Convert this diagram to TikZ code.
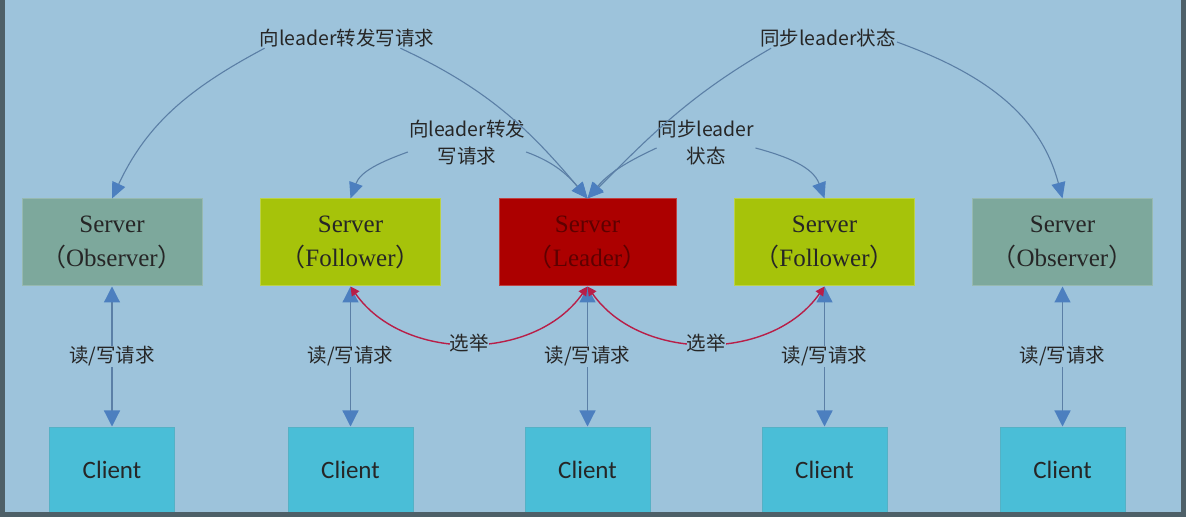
\documentclass[tikz,border=0pt]{standalone}
\usepackage{fontspec}
\setmainfont{Liberation Serif}
\newfontfamily\cjk{Noto Sans CJK SC}
\newfontfamily\clientfont{Carlito}
\usetikzlibrary{arrows.meta}
\definecolor{bg}{HTML}{9DC3DB}
\definecolor{obsc}{HTML}{7DA89C}
\definecolor{folc}{HTML}{A6C30A}
\definecolor{leadc}{HTML}{AC0000}
\definecolor{leadtxt}{HTML}{5E0000}
\definecolor{clic}{HTML}{4ABED7}
\definecolor{linec}{HTML}{5B7FA6}
\definecolor{tipc}{HTML}{4C7FBF}
\definecolor{elc}{HTML}{B81E48}
\definecolor{framec}{HTML}{4E6068}
\definecolor{txt}{HTML}{262626}
\tikzset{
  server/.style={minimum width=180pt, minimum height=87pt, inner sep=0pt, align=center,
    font=\fontsize{25}{34}\selectfont, text=black!85, line width=1pt},
  obsbox/.style={server, fill=obsc, draw=obsc!80!white},
  folbox/.style={server, fill=folc, draw=folc!75!white},
  leadbox/.style={server, fill=leadc, draw=leadc!75!white, text=leadtxt, minimum width=177pt},
  client/.style={minimum width=125pt, minimum height=86pt, inner sep=0pt, fill=clic,
    draw=clic!80!gray, line width=1pt, text=txt, font=\clientfont\fontsize{25}{30}\selectfont},
  lbl/.style={font=\cjk\fontsize{19.5}{27}\selectfont, text=txt, align=center, inner sep=1pt},
  conn/.style={draw=linec, line width=1.1pt, -{Triangle[width=14pt,length=16pt,color=tipc]}},
  rw/.style={draw=linec, line width=1.2pt,
    {Triangle[width=16pt,length=16pt,color=tipc]}-{Triangle[width=16pt,length=16pt,color=tipc]}},
  elect/.style={draw=elc, line width=1.4pt,
    {Triangle[width=9pt,length=9pt]}-{Triangle[width=9pt,length=9pt]}},
}
\begin{document}
\begin{tikzpicture}[x=1pt,y=1pt]
\useasboundingbox (0,0) rectangle (1186,517);
\fill[bg] (0,0) rectangle (1186,517);

% servers
\node[obsbox] (obs1) at (112,274.5) {Server\\{\cjk （}Observer{\cjk ）}};
\node[folbox] (fol1) at (350.5,274.5) {Server\\{\cjk （}Follower{\cjk ）}};
\node[leadbox] (lead) at (587.5,274.5) {Server\\{\cjk （}Leader{\cjk ）}};
\node[folbox] (fol2) at (824.5,274.5) {Server\\{\cjk （}Follower{\cjk ）}};
\node[obsbox] (obs2) at (1062.5,274.5) {Server\\{\cjk （}Observer{\cjk ）}};

% clients
\node[client] (c1) at (112,47) {Client};
\node[client] (c2) at (350.5,47) {Client};
\node[client] (c3) at (587.5,47) {Client};
\node[client] (c4) at (824.5,47) {Client};
\node[client] (c5) at (1062.5,47) {Client};

% labels
\node[lbl] (L1) at (347,479) {向leader转发写请求};
\node[lbl] (R1) at (828,479) {同步leader状态};
\node[lbl] (L2) at (467,374) {向leader转发\\写请求};
\node[lbl] (R2) at (706,374) {同步leader\\状态};

% top connectors
\draw[conn] ([xshift=6pt]L1.south west) to[out=208,in=65] (obs1.north);
\draw[conn] ([xshift=-35pt]L1.south east) to[out=-25,in=130] (lead.north);
\draw[conn] ([xshift=12pt]R1.south west) to[out=210,in=45] (lead.north);
\draw[conn] ([yshift=-4pt]R1.east) to[out=-20,in=105] (obs2.north);
\draw[conn] ([yshift=-9pt]L2.west) to[out=200,in=70] (fol1.north);
\draw[conn] ([yshift=-9pt]L2.east) to[out=-20,in=130] (lead.north);
\draw[conn] ([yshift=-5pt]R2.west) to[out=205,in=50] (lead.north);
\draw[conn] ([yshift=-5pt]R2.east) to[out=-15,in=110] (fol2.north);

% read/write
\draw[rw] (obs1.south) -- (c1.north) node[midway,lbl,fill=bg]{读/写请求};
\draw[rw] (fol1.south) -- (c2.north) node[midway,lbl,fill=bg]{读/写请求};
\draw[rw] (lead.south) -- (c3.north) node[midway,lbl,fill=bg]{读/写请求};
\draw[rw] (fol2.south) -- (c4.north) node[midway,lbl,fill=bg]{读/写请求};
\draw[rw] (obs2.south) -- (c5.north) node[midway,lbl,fill=bg]{读/写请求};

% elections
\draw[elect] (fol1.south) to[out=-55,in=-125] node[lbl,fill=bg,pos=0.5,inner sep=0pt]{选举} (lead.south);
\draw[elect] (lead.south) to[out=-55,in=-125] node[lbl,fill=bg,pos=0.5,inner sep=0pt]{选举} (fol2.south);

% frame
\draw[framec, line width=5pt] (2.5,517) -- (2.5,2.5) -- (1183.5,2.5) -- (1183.5,517);
\end{tikzpicture}
\end{document}
